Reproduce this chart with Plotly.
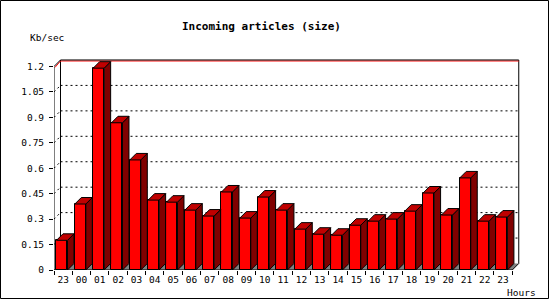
import plotly.graph_objects as go

hours = ["23", "00", "01", "02", "03", "04", "05", "06", "07", "08", "09", "10",
         "11", "12", "13", "14", "15", "16", "17", "18", "19", "20", "21", "22", "23"]
kb_sec = [0.175, 0.389, 1.190, 0.868, 0.649, 0.412, 0.400, 0.353, 0.318, 0.460,
          0.306, 0.430, 0.353, 0.241, 0.211, 0.205, 0.264, 0.288, 0.300, 0.347,
          0.454, 0.324, 0.543, 0.288, 0.312]
y_ticks = [0, 0.15, 0.3, 0.45, 0.6, 0.75, 0.9, 1.05, 1.2]
y_tick_text = ["0", "0.15", "0.3", "0.45", "0.6", "0.75", "0.9", "1.05", "1.2"]

# layout geometry (pixels)
W, H = 550, 300
L, R, T, B = 54, 29, 56, 30
PW, PH = W - L - R, H - T - B
PX_X = 18.33          # px per category
PX_Y = 169.6          # px per unit
DEPTH = 6.5           # 3-D depth in px
DX = DEPTH / PX_X
DY = DEPTH / PX_Y
n = len(hours)
x_lo = -0.5
x_hi = x_lo + PW / PX_X
y_hi = PH / PX_Y
ymax = y_ticks[-1]

FRONT_OFF = -0.364
FRONT_W = 0.60

idx = list(range(n))
fig = go.Figure()

# front faces as real bars
fig.add_trace(go.Bar(x=idx, y=kb_sec, width=FRONT_W, offset=FRONT_OFF,
                     marker=dict(color="#ff0000", line=dict(color="black", width=1)),
                     hoverinfo="skip"))

# side and top faces
sx, sy, tx, ty = [], [], [], []
for i, v in zip(idx, kb_sec):
    x0 = i + FRONT_OFF
    x1 = x0 + FRONT_W
    sx += [x1, x1 + DX, x1 + DX, x1, x1, None]
    sy += [0, DY, v + DY, v, 0, None]
    tx += [x0, x1, x1 + DX, x0 + DX, x0, None]
    ty += [v, v, v + DY, v + DY, v, None]
fig.add_trace(go.Scatter(x=sx, y=sy, mode="lines", fill="toself", fillcolor="#800000",
                         line=dict(color="black", width=1), hoverinfo="skip"))
fig.add_trace(go.Scatter(x=tx, y=ty, mode="lines", fill="toself", fillcolor="#c00000",
                         line=dict(color="black", width=1), hoverinfo="skip"))

shapes = []
# floor
shapes.append(dict(type="path", layer="below", xref="x", yref="y",
                   path=f"M {x_lo},0 L {n - 0.5},0 L {n - 0.5 + DX},{DY} L {x_lo + DX},{DY} Z",
                   fillcolor="#808080", line=dict(width=0)))
# dotted gridlines on back wall + diagonals on left wall
for v in y_ticks[1:-1]:
    shapes.append(dict(type="line", layer="below", xref="x", yref="y",
                       x0=x_lo + DX, x1=n - 0.5 + DX, y0=v + DY, y1=v + DY,
                       line=dict(color="black", width=1, dash="2px,3px")))
    shapes.append(dict(type="line", layer="below", xref="x", yref="y",
                       x0=x_lo, x1=x_lo + DX, y0=v, y1=v + DY,
                       line=dict(color="black", width=1, dash="2px,3px")))
# back wall left/right edges and top
one_px = 1.0 / PX_Y
shapes += [
    dict(type="line", layer="below", xref="x", yref="y", x0=x_lo + DX, x1=x_lo + DX,
         y0=DY, y1=ymax + DY, line=dict(color="black", width=1)),
    dict(type="line", layer="below", xref="x", yref="y", x0=n - 0.5 + DX, x1=n - 0.5 + DX,
         y0=DY, y1=ymax + DY, line=dict(color="black", width=1)),
    dict(type="line", layer="below", xref="x", yref="y", x0=x_lo + DX, x1=n - 0.5 + DX,
         y0=ymax + DY - one_px, y1=ymax + DY - one_px, line=dict(color="#ff0000", width=1)),
    dict(type="line", layer="below", xref="x", yref="y", x0=x_lo + DX, x1=n - 0.5 + DX,
         y0=ymax + DY, y1=ymax + DY, line=dict(color="black", width=1)),
    dict(type="line", layer="below", xref="x", yref="y", x0=x_lo + 0.05, x1=x_lo + DX,
         y0=ymax - one_px, y1=ymax + DY - one_px, line=dict(color="#ff0000", width=1)),
    dict(type="line", layer="below", xref="x", yref="y", x0=x_lo, x1=x_lo + DX,
         y0=ymax, y1=ymax + DY, line=dict(color="black", width=1)),
    # front axes
    dict(type="line", layer="above", xref="x", yref="y", x0=x_lo, x1=x_lo,
         y0=0, y1=ymax, line=dict(color="black", width=1)),
    dict(type="line", layer="above", xref="x", yref="y", x0=x_lo, x1=n - 0.5,
         y0=0, y1=0, line=dict(color="black", width=1)),
    dict(type="line", layer="above", xref="x", yref="y", x0=n - 0.5, x1=n - 0.5 + DX,
         y0=0, y1=DY, line=dict(color="black", width=1)),
    # outer border
    dict(type="rect", layer="above", xref="paper", yref="paper",
         x0=(0.5 - L) / PW, x1=(W - 1.5 - L) / PW,
         y0=(PH + T - (H - 1.5)) / PH, y1=(PH + T - 0.5) / PH,
         line=dict(color="black", width=1)),
]


def px_to_paper(px, py):
    return (px - L) / PW, (T + PH - py) / PH


mono = "DejaVu Sans Mono"
annotations = []
ax_, ay_ = px_to_paper(261, 27)
annotations.append(dict(text="<b>Incoming articles (size)</b>", x=ax_, y=ay_, xref="paper",
                        yref="paper", xanchor="center", yanchor="middle", showarrow=False,
                        font=dict(family=mono, size=11, color="black")))
ax_, ay_ = px_to_paper(28, 37)
annotations.append(dict(text="Kb/sec", x=ax_, y=ay_, xref="paper", yref="paper",
                        xanchor="left", yanchor="middle", showarrow=False,
                        font=dict(family=mono, size=9.5, color="black")))
ax_, ay_ = px_to_paper(505, 292)
annotations.append(dict(text="Hours", x=ax_, y=ay_, xref="paper", yref="paper",
                        xanchor="left", yanchor="middle", showarrow=False,
                        font=dict(family=mono, size=9.5, color="black")))

fig.update_layout(
    width=W, height=H, margin=dict(l=L, r=R, t=T, b=B, pad=0),
    paper_bgcolor="white", plot_bgcolor="white", showlegend=False,
    shapes=shapes, annotations=annotations,
    xaxis=dict(range=[x_lo, x_hi], tickmode="array", tickvals=idx, ticktext=hours,
               ticks="", showgrid=False, zeroline=False, showline=False,
               tickfont=dict(family=mono, size=9.5, color="black"), ticklabelstandoff=2,
               minor=dict(tickmode="array", tickvals=[i - 0.5 for i in range(n + 1)],
                          ticks="outside", ticklen=4, tickcolor="black", tickwidth=1,
                          showgrid=False)),
    yaxis=dict(range=[0, y_hi], tickmode="array", tickvals=y_ticks, ticktext=y_tick_text,
               ticks="outside", ticklen=4, tickcolor="black", tickwidth=1,
               showgrid=False, zeroline=False, showline=False, ticklabelstandoff=3,
               tickfont=dict(family=mono, size=9.5, color="black")),
    bargap=0,
)

fig.write_html("out.html")
